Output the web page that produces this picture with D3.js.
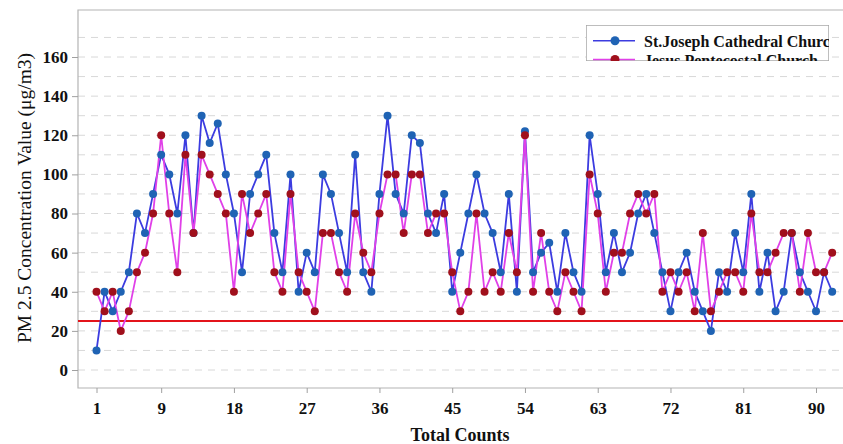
<!DOCTYPE html>
<html lang="en">
<head>
  <meta charset="UTF-8">
  <title>PM 2.5 Concentration</title>
  <script src="https://cdn.jsdelivr.net/npm/d3@7/dist/d3.min.js"></script>
  <style>
    body { margin: 0; background: #fff; }
    svg { display: block; }
    text { font-family: "Times New Roman", "Liberation Serif", serif; }
  </style>
</head>
<body>
<script>
  // values
  const counts = d3.range(1, 93);
  const stJoseph = [10, 40, 30, 40, 50, 80, 70, 90, 110, 100, 80, 120, 70, 130, 116, 126, 100, 80, 50, 90,
    100, 110, 70, 50, 100, 40, 60, 50, 100, 90, 70, 50, 110, 50, 40, 90, 130, 90, 80, 120,
    116, 80, 70, 90, 40, 60, 80, 100, 80, 70, 50, 90, 40, 122, 50, 60, 65, 40, 70, 50,
    40, 120, 90, 50, 70, 50, 60, 80, 90, 70, 50, 30, 50, 60, 40, 30, 20, 50, 40, 70,
    50, 90, 40, 60, 30, 40, 70, 50, 40, 30, 50, 40];
  const jesusPentecostal = [40, 30, 40, 20, 30, 50, 60, 80, 120, 80, 50, 110, 70, 110, 100, 90, 80, 40, 90, 70,
    80, 90, 50, 40, 90, 50, 40, 30, 70, 70, 50, 40, 80, 60, 50, 80, 100, 100, 70, 100,
    100, 70, 80, 80, 50, 30, 40, 80, 40, 50, 40, 70, 50, 120, 40, 70, 40, 30, 50, 40,
    30, 100, 80, 40, 60, 60, 80, 90, 80, 90, 40, 50, 40, 50, 30, 70, 30, 40, 50, 50,
    40, 80, 50, 50, 60, 70, 70, 40, 70, 50, 50, 60];
  const xTicks = [1, 9, 18, 27, 36, 45, 54, 63, 72, 81, 90];
  const yTicks = [0, 20, 40, 60, 80, 100, 120, 140, 160];
  const gridValues = d3.range(0, 180, 10);
  const limitValue = 25;
  const seriesNames = ["St.Joseph Cathedral Church", "Jesus Pentecostal Church"];

  const width = 843, height = 444;
  const plotLeft = 78, plotTop = 10, plotBottom = 388, plotRight = 860;

  const svg = d3.select('body').append('svg')
    .attr('width', width)
    .attr('height', height);

  const x = d3.scaleLinear().domain([1, 90]).range([96.5, 816]);
  const y = d3.scaleLinear().domain([0, 160]).range([370, 57]);

  // dashed grid
  svg.append('g')
    .selectAll('line')
    .data(gridValues)
    .enter().append('line')
    .attr('x1', plotLeft).attr('x2', plotRight)
    .attr('y1', d => y(d)).attr('y2', d => y(d))
    .attr('stroke', '#d8d8d8')
    .attr('stroke-width', 1)
    .attr('stroke-dasharray', '7,6');

  // frame
  svg.append('path')
    .attr('d', `M${plotRight},${plotTop} H${plotLeft} V${plotBottom} H${plotRight}`)
    .attr('fill', 'none')
    .attr('stroke', '#b4b4b4')
    .attr('stroke-width', 1.2);

  // axes
  const yAxis = svg.append('g')
    .attr('transform', `translate(${plotLeft},0)`)
    .call(d3.axisLeft(y).tickValues(yTicks).tickSize(6).tickPadding(4));
  const xAxis = svg.append('g')
    .attr('transform', `translate(0,${plotBottom})`)
    .call(d3.axisBottom(x).tickValues(xTicks).tickSize(5).tickPadding(9));
  [yAxis, xAxis].forEach(ax => {
    ax.select('.domain').remove();
    ax.selectAll('line').attr('stroke', '#a0a0a0');
    ax.selectAll('text')
      .attr('fill', '#111')
      .style('font-family', '"Times New Roman", "Liberation Serif", serif')
      .style('font-weight', 'bold')
      .style('font-size', '17px');
  });

  // axis titles
  svg.append('text')
    .attr('transform', 'translate(31,198) rotate(-90)')
    .attr('text-anchor', 'middle')
    .attr('fill', '#111')
    .style('font-size', '19.5px')
    .text('PM 2.5 Concentration Value (μg/m3)');
  svg.append('text')
    .attr('x', 460).attr('y', 441)
    .attr('text-anchor', 'middle')
    .attr('fill', '#111')
    .style('font-size', '18px')
    .style('font-weight', 'bold')
    .text('Total Counts');

  // limit line
  svg.append('line')
    .attr('x1', plotLeft).attr('x2', plotRight)
    .attr('y1', y(limitValue)).attr('y2', y(limitValue))
    .attr('stroke', '#e3141b')
    .attr('stroke-width', 2);

  const line = d3.line().x((d, i) => x(counts[i])).y(d => y(d));

  svg.append('path')
    .datum(stJoseph)
    .attr('d', line)
    .attr('fill', 'none')
    .attr('stroke', '#3c3ce0')
    .attr('stroke-width', 1.8);
  svg.append('path')
    .datum(jesusPentecostal)
    .attr('d', line)
    .attr('fill', 'none')
    .attr('stroke', '#e040e8')
    .attr('stroke-width', 1.8);

  svg.append('g').selectAll('circle')
    .data(stJoseph)
    .enter().append('circle')
    .attr('cx', (d, i) => x(counts[i]))
    .attr('cy', d => y(d))
    .attr('r', 4)
    .attr('fill', '#1f63b4');
  svg.append('g').selectAll('circle')
    .data(jesusPentecostal)
    .enter().append('circle')
    .attr('cx', (d, i) => x(counts[i]))
    .attr('cy', d => y(d))
    .attr('r', 4)
    .attr('fill', '#a0101c');

  // legend, clipped at its box like in the picture
  svg.append('clipPath').attr('id', 'legclip')
    .append('rect').attr('x', 586).attr('y', 25).attr('width', 243).attr('height', 36);
  const leg = svg.append('g').attr('clip-path', 'url(#legclip)');
  leg.append('rect')
    .attr('x', 586).attr('y', 25).attr('width', 243).attr('height', 36)
    .attr('fill', '#fff')
    .attr('stroke', '#a8a8a8')
    .attr('stroke-width', 1.5);
  const legColors = [['#3c3ce0', '#1f63b4'], ['#e040e8', '#a0101c']];
  seriesNames.forEach((name, i) => {
    const ly = 40.7 + i * 18.8;
    leg.append('line')
      .attr('x1', 593).attr('x2', 635).attr('y1', ly).attr('y2', ly)
      .attr('stroke', legColors[i][0]).attr('stroke-width', 1.6);
    leg.append('circle')
      .attr('cx', 615).attr('cy', ly).attr('r', 4.5)
      .attr('fill', legColors[i][1]);
    leg.append('text')
      .attr('x', 644).attr('y', ly + 6)
      .attr('fill', '#111')
      .style('font-size', '16px')
      .style('font-weight', 'bold')
      .text(name);
  });
</script>
</body>
</html>
